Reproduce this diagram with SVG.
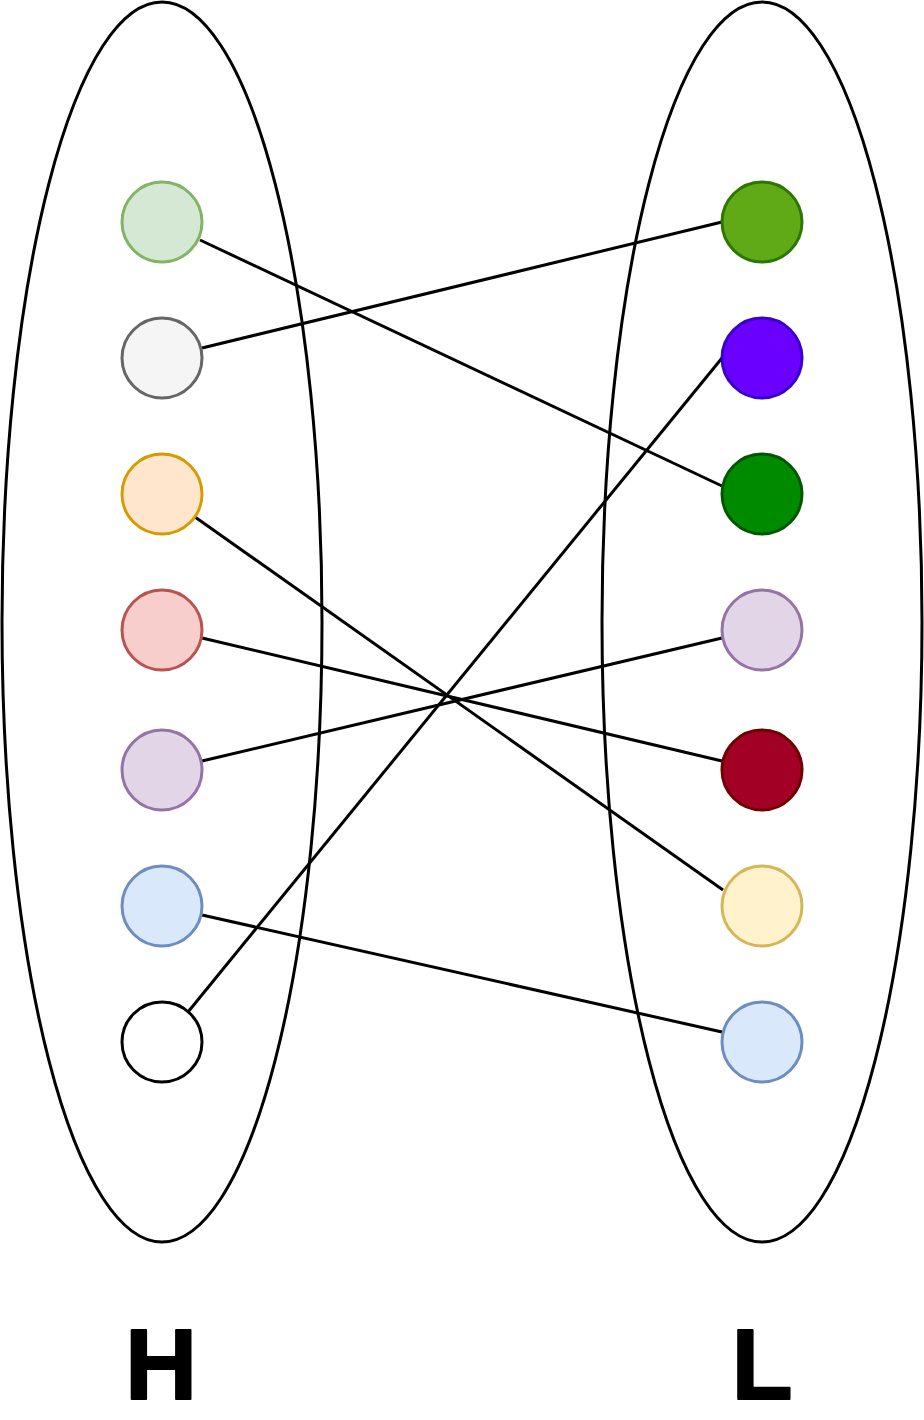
<svg xmlns="http://www.w3.org/2000/svg" width="924" height="1420" viewBox="0 0 924 1420">
<style>
.set{fill:none;stroke:#000;stroke-width:3}
.n{stroke-width:3}
.e{stroke:#000;stroke-width:3;fill:none}
.lbl{font-family:"Liberation Sans",Arial,sans-serif;font-weight:bold;font-size:100px;fill:#000;stroke:#000;stroke-width:2;stroke-linejoin:round;text-anchor:middle}
</style>
<rect width="924" height="1420" fill="#fff"/>
<g id="setH"><ellipse class="set" cx="162" cy="622" rx="160" ry="620"/></g>
<g id="setL"><ellipse class="set" cx="762" cy="622" rx="160" ry="620"/></g>
<g id="connectors">
<line class="e" x1="200" y1="240" x2="722" y2="486"/>
<line class="e" x1="202" y1="348" x2="722" y2="222"/>
<line class="e" x1="195" y1="517" x2="723" y2="890"/>
<line class="e" x1="202" y1="638" x2="722" y2="761"/>
<line class="e" x1="202" y1="761" x2="722" y2="638"/>
<line class="e" x1="202" y1="915" x2="722" y2="1032"/>
<line class="e" x1="188" y1="1012" x2="722" y2="358"/>
</g>
<g id="h1"><circle class="n" cx="162" cy="222" r="40" fill="#d5e8d4" stroke="#82b366"/></g>
<g id="h2"><circle class="n" cx="162" cy="358" r="40" fill="#f5f5f5" stroke="#666666"/></g>
<g id="h3"><circle class="n" cx="162" cy="494" r="40" fill="#ffe6cc" stroke="#d79b00"/></g>
<g id="h4"><circle class="n" cx="162" cy="630" r="40" fill="#f8cecc" stroke="#b85450"/></g>
<g id="h5"><circle class="n" cx="162" cy="770" r="40" fill="#e1d5e7" stroke="#9673a6"/></g>
<g id="h6"><circle class="n" cx="162" cy="906" r="40" fill="#dae8fc" stroke="#6c8ebf"/></g>
<g id="h7"><circle class="n" cx="162" cy="1042" r="40" fill="#ffffff" stroke="#000000"/></g>
<g id="l1"><circle class="n" cx="762" cy="222" r="40" fill="#60a917" stroke="#2d7600"/></g>
<g id="l2"><circle class="n" cx="762" cy="358" r="40" fill="#6a00ff" stroke="#3700cc"/></g>
<g id="l3"><circle class="n" cx="762" cy="494" r="40" fill="#008a00" stroke="#005700"/></g>
<g id="l4"><circle class="n" cx="762" cy="630" r="40" fill="#e1d5e7" stroke="#9673a6"/></g>
<g id="l5"><circle class="n" cx="762" cy="770" r="40" fill="#a20025" stroke="#6f0000"/></g>
<g id="l6"><circle class="n" cx="762" cy="906" r="40" fill="#fff2cc" stroke="#d6b656"/></g>
<g id="l7"><circle class="n" cx="762" cy="1042" r="40" fill="#dae8fc" stroke="#6c8ebf"/></g>
<g id="labelH"><text class="lbl" x="161" y="1399">H</text></g>
<g id="labelL"><text class="lbl" x="762" y="1399">L</text></g>
</svg>
